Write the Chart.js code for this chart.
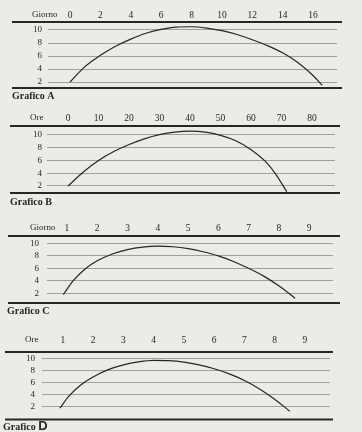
<!DOCTYPE html>
<html>
<head>
<meta charset="utf-8">
<script src="https://cdn.jsdelivr.net/npm/chart.js@4/dist/chart.umd.min.js"></script>
<style>
  body { margin: 0; background: #ecebe8; }
  #wrap { position: relative; width: 362px; height: 432px; overflow: hidden; }
  canvas { position: absolute; left: 0; }
</style>
</head>
<body>
<div id="wrap">
  <canvas id="chartA" width="362" height="108" style="top:0px"></canvas>
  <canvas id="chartB" width="362" height="108" style="top:108px"></canvas>
  <canvas id="chartC" width="362" height="112" style="top:216px"></canvas>
  <canvas id="chartD" width="362" height="104" style="top:328px"></canvas>
</div>
<script>
// tick labels
const yTicks = [2, 4, 6, 8, 10];
const giorniA = [0, 2, 4, 6, 8, 10, 12, 14, 16];
const oreB = [0, 10, 20, 30, 40, 50, 60, 70, 80];
const giorniC = [1, 2, 3, 4, 5, 6, 7, 8, 9];
const oreD = [1, 2, 3, 4, 5, 6, 7, 8, 9];

// curves
const curveAx = [0, 1, 2, 3, 4, 5, 6, 7, 8, 9, 10, 11, 12, 13, 14, 15, 16, 16.6];
const curveAy = [2.0, 4.4, 6.1, 7.5, 8.6, 9.5, 10.1, 10.45, 10.5, 10.3, 9.9, 9.3, 8.5, 7.6, 6.5, 5.0, 3.0, 1.5];

const curveBx = [0, 5, 10, 15, 20, 25, 30, 35, 40, 45, 50, 55, 60, 65, 68, 71.7];
const curveBy = [2.0, 4.2, 6.0, 7.4, 8.5, 9.4, 10.05, 10.45, 10.6, 10.45, 9.95, 9.1, 7.7, 5.7, 3.9, 1.1];

const curveCx = [0.88, 1.2, 1.6, 2.0, 2.5, 3.0, 3.5, 4.0, 4.5, 5.0, 5.5, 6.0, 6.5, 7.0, 7.5, 8.0, 8.54];
const curveCy = [1.8, 4.0, 5.9, 7.2, 8.3, 9.0, 9.4, 9.55, 9.45, 9.15, 8.65, 8.0, 7.1, 6.0, 4.75, 3.2, 1.2];

const curveDx = [0.9, 1.2, 1.6, 2.0, 2.5, 3.0, 3.5, 4.0, 4.5, 5.0, 5.5, 6.0, 6.5, 7.0, 7.5, 8.0, 8.5];
const curveDy = [1.7, 3.7, 5.6, 6.9, 8.1, 8.9, 9.4, 9.65, 9.6, 9.35, 8.9, 8.25, 7.4, 6.3, 4.9, 3.2, 1.2];

const ink = '#262626';
const serif = '"Liberation Serif", "DejaVu Serif", serif';

// thick rules above and below the plot, axis name and caption
const rulesPlugin = {
    id: 'rules',
    afterDraw(chart, args, o) {
        const ctx = chart.ctx;
        const a = chart.chartArea;
        ctx.save();
        ctx.strokeStyle = ink;
        ctx.lineWidth = 2;
        [a.top, a.bottom].forEach(y => {
            ctx.beginPath();
            ctx.moveTo(o.x0, y);
            ctx.lineTo(o.x1, y);
            ctx.stroke();
        });
        ctx.fillStyle = ink;
        ctx.textBaseline = 'middle';
        ctx.font = '9px ' + serif;
        ctx.fillText(o.name, o.nameX, o.nameY);
        ctx.font = 'bold 10px ' + serif;
        const cy = a.bottom + o.capDy;
        ctx.fillText('Grafico', o.capX, cy);
        const w = ctx.measureText('Grafico ').width;
        if (o.bigLetter) ctx.font = 'bold 13px "Liberation Sans", sans-serif';
        ctx.fillText(o.letter, o.capX + w, cy + (o.bigLetter ? -1 : 0));
        ctx.restore();
    }
};

function makeChart(id, xs, ys, xTicks, cfg) {
    const canvas = document.getElementById(id);
    return new Chart(canvas, {
        type: 'line',
        data: {
            datasets: [{
                data: xs.map((x, i) => ({ x: x, y: ys[i] })),
                borderColor: ink,
                borderWidth: 1.2,
                pointRadius: 0,
                cubicInterpolationMode: 'monotone',
                fill: false
            }]
        },
        options: {
            responsive: false,
            animation: false,
            devicePixelRatio: 1,
            layout: {
                padding: { left: 0, top: 0, right: 362 - cfg.right, bottom: canvas.height - cfg.bottom }
            },
            plugins: {
                legend: { display: false },
                tooltip: { enabled: false },
                rules: cfg.rules
            },
            scales: {
                x: {
                    type: 'linear',
                    position: 'top',
                    min: cfg.xMin,
                    max: cfg.xMax,
                    grid: { display: false, drawTicks: false },
                    border: { display: false },
                    afterBuildTicks: s => { s.ticks = xTicks.map(v => ({ value: v })); },
                    afterFit: s => { s.height = cfg.top; },
                    ticks: {
                        autoSkip: false,
                        maxRotation: 0,
                        padding: cfg.xPad,
                        color: ink,
                        font: { family: serif, size: 9.5 }
                    }
                },
                y: {
                    min: cfg.yMin,
                    max: cfg.yMax,
                    grid: { color: '#8c8c8c', lineWidth: 0.8, drawTicks: false },
                    border: { display: false },
                    afterBuildTicks: s => { s.ticks = yTicks.map(v => ({ value: v })); },
                    afterFit: s => { s.width = cfg.left; },
                    ticks: {
                        padding: cfg.yPad,
                        color: ink,
                        font: { family: serif, size: 9 }
                    }
                }
            }
        },
        plugins: [rulesPlugin]
    });
}

// Grafico A
makeChart('chartA', curveAx, curveAy, giorniA, {
    left: 48, right: 337, top: 22, bottom: 88,
    xMin: -1.45, xMax: 17.58, yMin: 1.08, yMax: 11.23,
    xPad: 1.3, yPad: 6,
    rules: { x0: 12, x1: 342, name: 'Giorno', nameX: 32, nameY: 15, capX: 12, capDy: 8, letter: 'A' }
});

// Grafico B
makeChart('chartB', curveBx, curveBy, oreB, {
    left: 47, right: 335, top: 18, bottom: 85,
    xMin: -6.9, xMax: 87.5, yMin: 0.9, yMax: 11.41,
    xPad: 2.3, yPad: 5,
    rules: { x0: 10, x1: 340, name: 'Ore', nameX: 30, nameY: 10, capX: 10, capDy: 9, letter: 'B' }
});

// Grafico C
makeChart('chartC', curveCx, curveCy, giorniC, {
    left: 47, right: 333, top: 20, bottom: 87,
    xMin: 0.34, xMax: 9.79, yMin: 0.45, yMax: 11.17,
    xPad: 2.3, yPad: 8,
    rules: { x0: 8, x1: 340, name: 'Giorno', nameX: 30, nameY: 12, capX: 7, capDy: 8, letter: 'C' }
});

// Grafico D
makeChart('chartD', curveDx, curveDy, oreD, {
    left: 42, right: 330, top: 24, bottom: 92,
    xMin: 0.31, xMax: 9.83, yMin: -0.2, yMax: 11.04,
    xPad: 6.3, yPad: 7,
    rules: { x0: 5, x1: 333, name: 'Ore', nameX: 25, nameY: 12, capX: 3, capDy: 8, letter: 'D', bigLetter: true }
});
</script>
</body>
</html>
